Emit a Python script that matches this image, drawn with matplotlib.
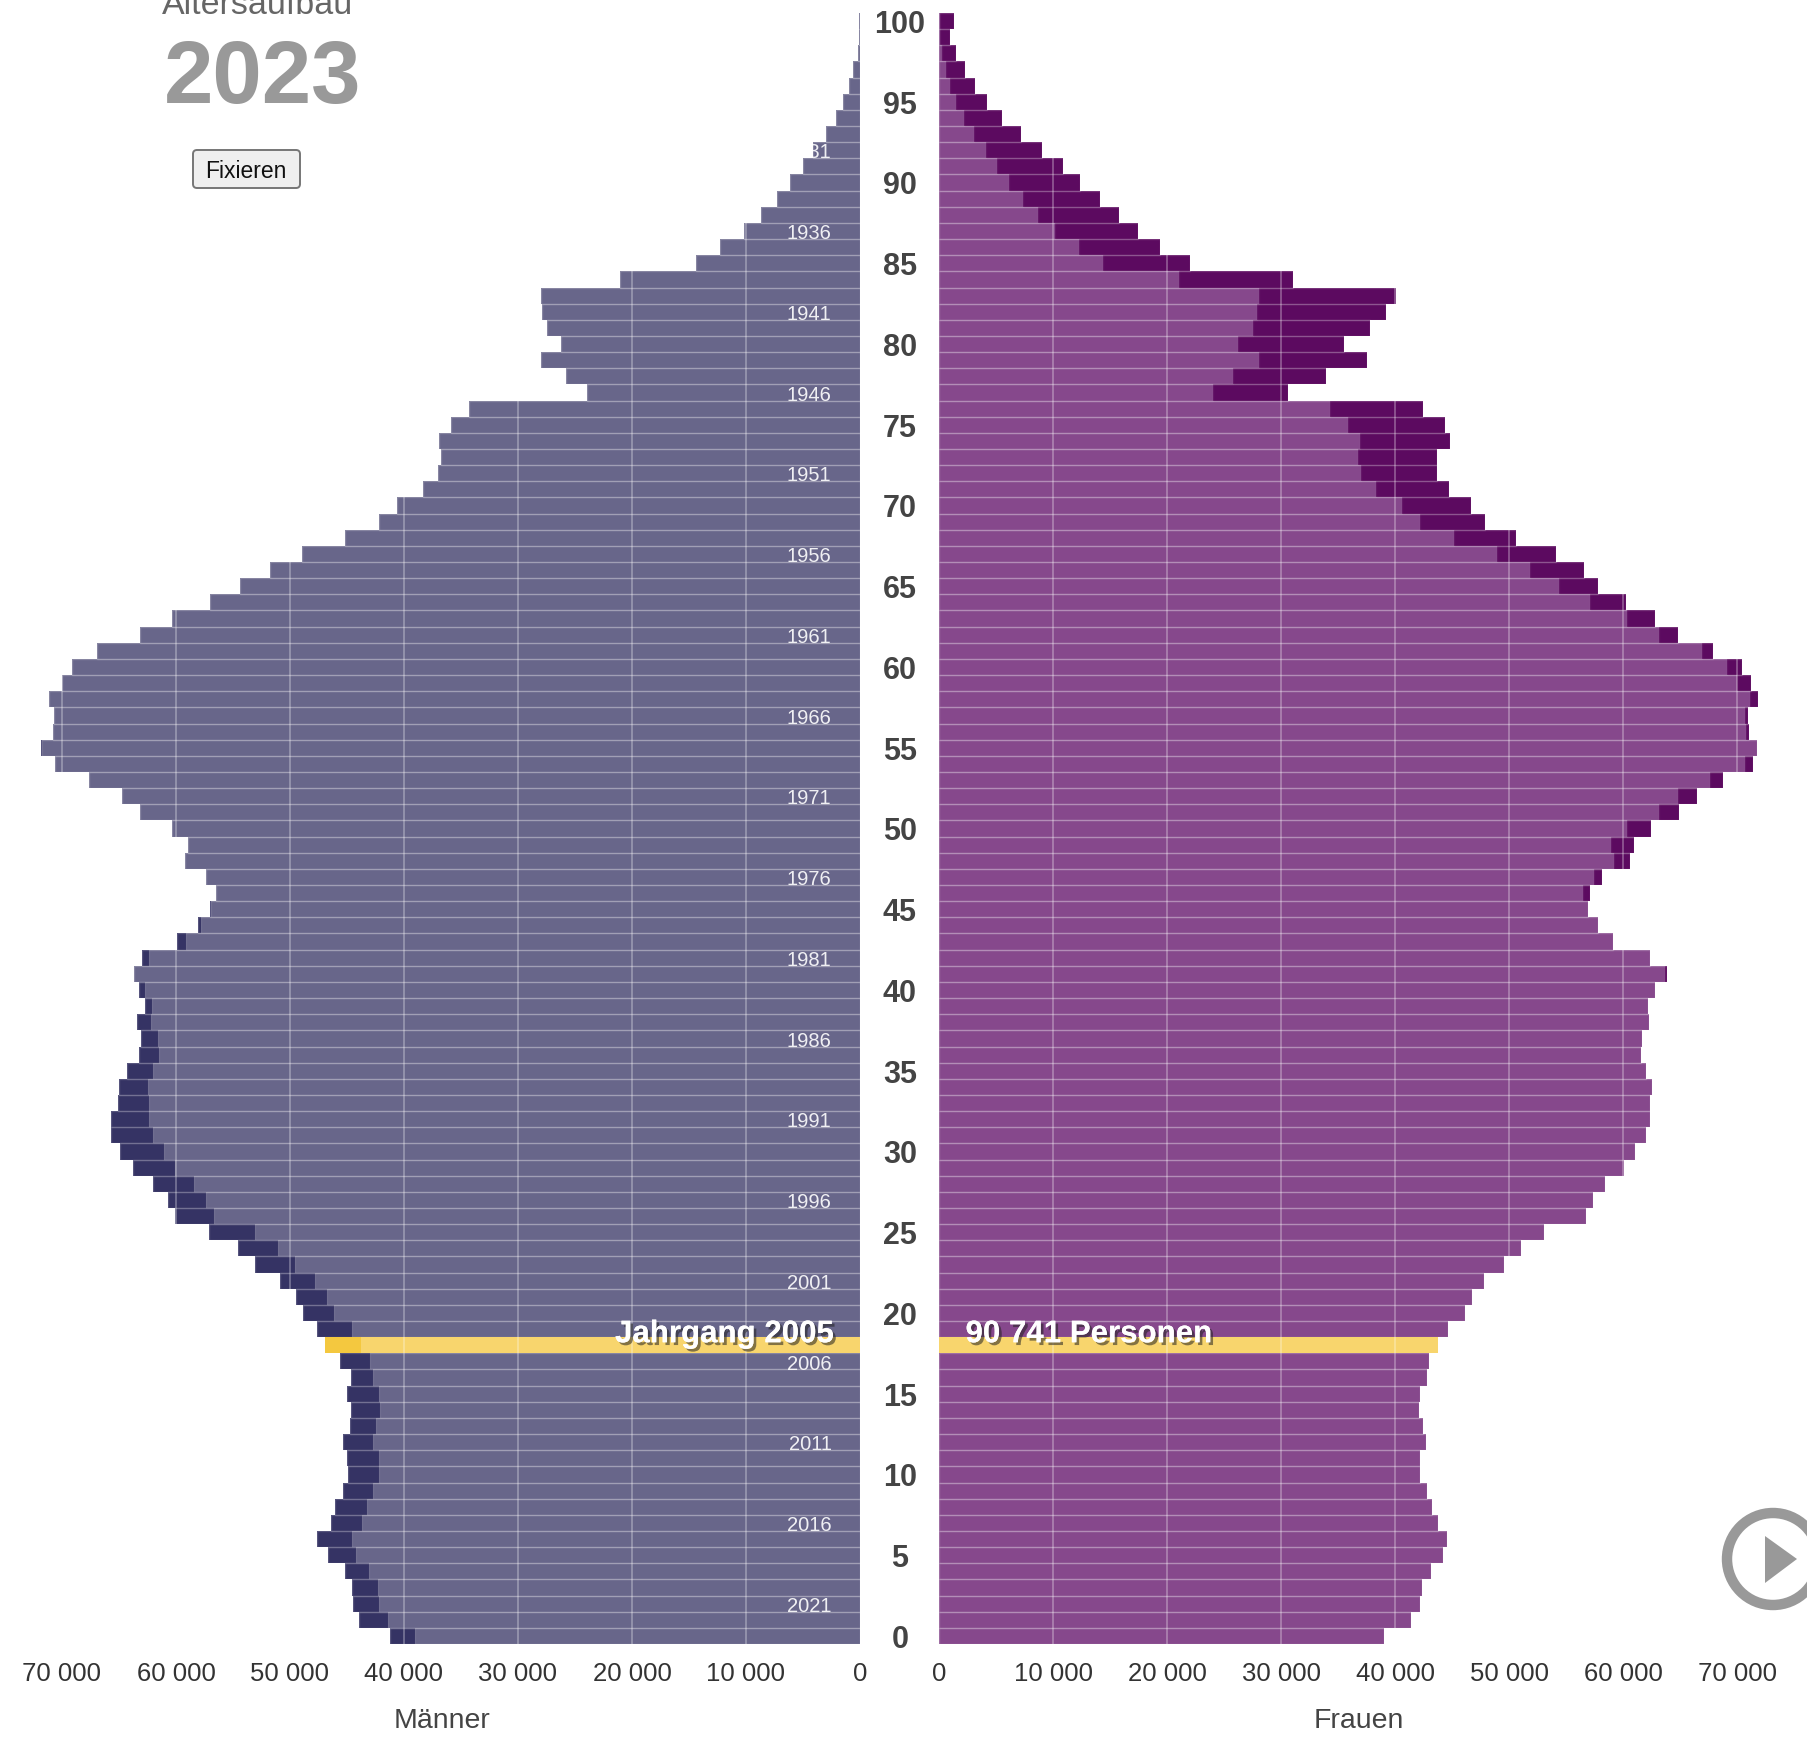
import numpy as np
import matplotlib
matplotlib.use("Agg")
import matplotlib.pyplot as plt
from matplotlib import patheffects as pe
from matplotlib.patches import Circle, Polygon, FancyBboxPatch

plt.rcParams['font.family'] = ['Liberation Sans', 'DejaVu Sans']

W, H = 1807, 1740

# ages from 100 down to 0
ages = list(range(100, -1, -1))
male = [50, 100, 200, 600, 960, 1470, 2130, 3000, 4100, 5020,
        6140, 7300, 8670, 10140, 12270, 14400, 21050, 28000, 27900, 27490,
        26220, 28000, 25770, 23990, 34290, 35860, 36920, 36720, 37030, 38340,
        40580, 42200, 45140, 48950, 51790, 54370, 57060, 60360, 63150, 66900,
        69130, 70000, 71100, 70700, 70800, 71860, 70650, 67630, 64770, 63150,
        60360, 58930, 59200, 57400, 56450, 57000, 58060, 59880, 62950, 63700,
        63250, 62750, 63450, 63050, 63250, 64310, 64970, 65120, 65720, 65720,
        64920, 63760, 61990, 60730, 60130, 57110, 54590, 53080, 50910, 49450,
        48900, 47590, 46890, 45580, 44620, 44970, 44670, 44770, 45320, 45020,
        44920, 45370, 46030, 46380, 47590, 46680, 45170, 44570, 44470, 43910,
        41250]
female = [1268, 900, 1470, 2230, 3090, 4160, 5530, 7200, 9030, 10850,
          12380, 14100, 15720, 17450, 19320, 22010, 30990, 40070, 39200, 37790,
          35500, 37480, 33930, 30630, 42400, 44330, 44790, 43620, 43670, 44740,
          46660, 47830, 50570, 54070, 56550, 57820, 60250, 62740, 64820, 67860,
          70400, 71210, 71820, 70900, 71060, 71720, 71410, 68720, 66440, 64870,
          62430, 60960, 60600, 58170, 57060, 56900, 57820, 59080, 62380, 63850,
          62740, 62130, 62230, 61620, 61520, 61980, 62480, 62380, 62380, 62030,
          61060, 60050, 58380, 57370, 56700, 53050, 51020, 49550, 47780, 46760,
          46100, 44580, 43770, 42960, 42760, 42150, 42100, 42450, 42710, 42150,
          42150, 42760, 43260, 43720, 44530, 44180, 43110, 42300, 42200, 41390,
          39000]
grid_values = [10000, 20000, 30000, 40000, 50000, 60000, 70000]
tick_values = [0] + grid_values
tick_labels = ['0', '10 000', '20 000', '30 000', '40 000', '50 000', '60 000', '70 000']
age_ticks = list(range(0, 101, 5))
cohort_labels = list(range(1931, 2022, 5))
highlight_age = 18
highlight_year = 2023 - highlight_age
highlight_count = '90 741 Personen'

C_M_LIGHT, C_M_DARK = '#68668a', '#353364'
C_F_LIGHT, C_F_DARK = '#86488c', '#5c0a60'
C_Y_LIGHT, C_Y_DARK = '#f8d56d', '#f4c83f'
EDGE = (1, 1, 1, 0.17)
TXT = '#333333'

fig = plt.figure(figsize=(W / 100, H / 100), dpi=100, facecolor='white')
PX = 0.0114                 # pixels per person
y_top, y_bot = 14, 1645
x0_m, x0_f = 860, 939.3


def add_axes(left, right):
    return fig.add_axes([left / W, 1 - y_bot / H, (right - left) / W, (y_bot - y_top) / H])


ax_m = add_axes(2, x0_m)
ax_f = add_axes(x0_f, W)
ax_m.set_xlim((x0_m - 2) / PX, 0)
ax_f.set_xlim(0, (W - x0_f) / PX)

a = np.array(ages)
m = np.array(male, float)
f = np.array(female, float)
low = np.minimum(m, f)
mask = a != highlight_age

for ax, vals, cl, cd in ((ax_m, m, C_M_LIGHT, C_M_DARK), (ax_f, f, C_F_LIGHT, C_F_DARK)):
    ax.barh(a[mask], low[mask], height=1, color=cl, linewidth=0, zorder=2)
    ax.barh(a[mask], (vals - low)[mask], left=low[mask], height=1, color=cd, linewidth=0, zorder=2)
    ax.barh(a[mask], vals[mask], height=1, facecolor='none', edgecolor=EDGE, linewidth=1.0, zorder=3)
    ax.barh(a[mask], low[mask], height=1, facecolor='none', edgecolor=(1, 1, 1, 0.06), linewidth=1.0, zorder=3)
    ax.barh(a[~mask], vals[~mask], height=1, color=C_Y_DARK, linewidth=0, zorder=3.2)
    ax.barh(a[~mask], low[~mask], height=1, color=C_Y_LIGHT, linewidth=0, zorder=3.3)
    ax.vlines(grid_values, -0.5, 100.5, color=(1, 1, 1, 0.36), linewidth=1.1, zorder=4)
    ax.set_ylim(-0.5, 100.5)
    ax.set_xticks(tick_values)
    ax.set_xticklabels(tick_labels, fontsize=18.5, color=TXT)
    ax.tick_params(axis='x', length=0, pad=12)
    for s in ax.spines.values():
        s.set_visible(False)
    ax.patch.set_alpha(0)

ax_m.set_yticks([])
ax_f.set_yticks([])

# age labels between the two halves
for v in age_ticks:
    ax_f.annotate(str(v), (0, v), xytext=(-28.3, -2.1), textcoords='offset points',
                  fontsize=22, fontweight='bold', color='#444444',
                  ha='center', va='center', annotation_clip=False)

# cohort labels inside the male bars (white, so invisible outside the bars)
for year in cohort_labels:
    ax_m.annotate(str(year), (2500, 2023 - year), xytext=(0, -1.2), textcoords='offset points',
                  color=(1, 1, 1, 0.9), fontsize=14.5, ha='right', va='center', zorder=5)

shadow = [pe.withSimplePatchShadow(offset=(2, -2), shadow_rgbFace='#222222', alpha=0.55), pe.Normal()]
ax_m.text(2300, highlight_age + 0.68, f'Jahrgang {highlight_year}', color='white', fontsize=22.5,
          fontweight='bold', ha='right', va='center', zorder=6, path_effects=shadow)
ax_f.text(2300, highlight_age + 0.68, highlight_count, color='white', fontsize=22.5,
          fontweight='bold', ha='left', va='center', zorder=6, path_effects=shadow)


def fx(px):
    return px / W


def fy(py):
    return 1 - py / H


fig.text(fx(442), fy(1721), 'Männer', fontsize=20.5, color='#444444', ha='center', va='center')
fig.text(fx(1359), fy(1721), 'Frauen', fontsize=20.5, color='#444444', ha='center', va='center')
fig.text(fx(162), fy(14), 'Altersaufbau', fontsize=24.5, color='#666666', ha='left', va='baseline')
fig.text(fx(164), fy(103), '2023', fontsize=64, fontweight='bold', color='#999999', ha='left', va='baseline')

# "Fixieren" button (rounded corners drawn in pixel units)
btn = FancyBboxPatch((195, H - 187), 103, 34, boxstyle='round,pad=2,rounding_size=4',
                     transform=None, facecolor='#efefef', edgecolor='#767676', linewidth=1.4)
fig.add_artist(btn)
fig.text(fx(246), fy(172), 'Fixieren', fontsize=16.5, color='#111111', ha='center', va='center')

# play button (cut off by the right edge)
ring = Circle((1773, H - 1560), 46, transform=None, facecolor='none', edgecolor='#999999', linewidth=7.5)
fig.add_artist(ring)
tri = Polygon([(1765, H - 1537), (1765, H - 1584), (1797, H - 1560)], closed=True,
              transform=None, facecolor='#999999', edgecolor='none')
fig.add_artist(tri)

fig.savefig('out.png', dpi=100, facecolor='white')
